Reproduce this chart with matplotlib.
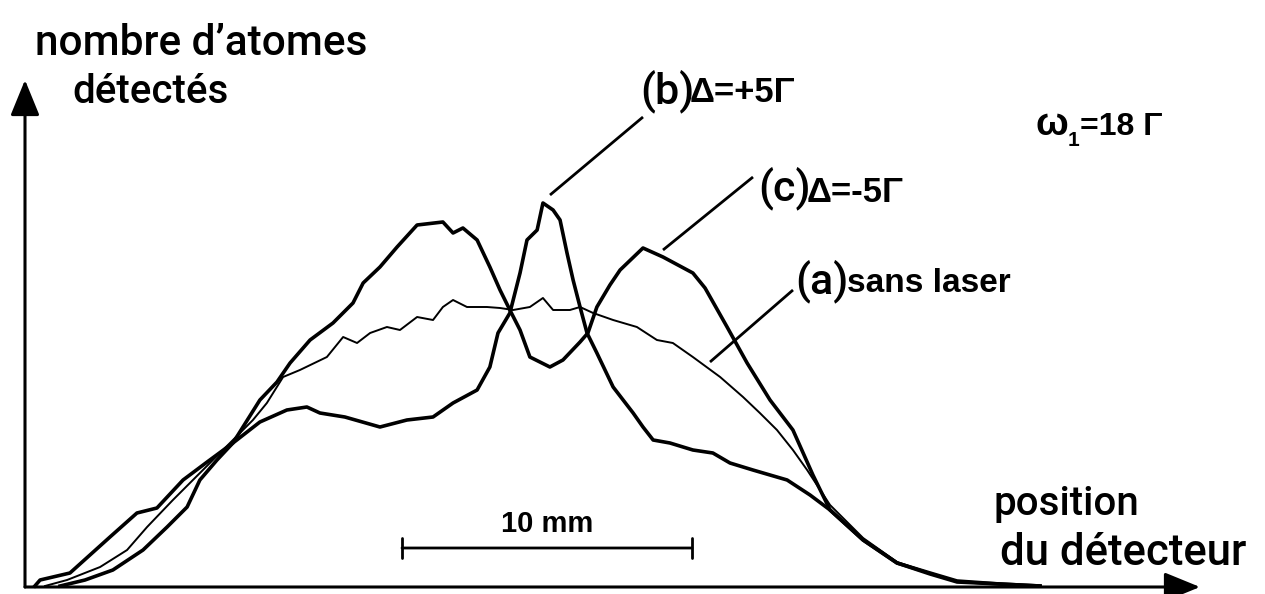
import matplotlib.pyplot as plt

# detector position in mm, atom counts in arbitrary units
pos_a = [0.69, 1.45, 2.59, 3.52, 4.21, 5.10, 5.79, 6.48, 7.17, 7.86, 8.34, 8.90, 9.48,
         10.41, 10.97, 11.45, 11.90, 12.48, 12.93, 13.52, 14.07, 14.41, 14.76, 15.24,
         15.93, 16.38, 16.83, 17.41, 17.86, 18.21, 18.79, 19.14, 19.59, 20.28, 21.10,
         21.79, 22.34, 23.03, 23.97, 24.76, 25.34, 25.93, 26.48, 26.97, 27.76, 28.90,
         30.07, 31.21, 32.14, 33.62, 35.00]
cnt_a = [1, 7, 20, 37, 60, 87, 107, 127, 147, 167, 184, 210, 217, 230, 250, 244, 254,
         260, 257, 270, 267, 280, 287, 280, 280, 279, 277, 280, 289, 277, 277, 280, 274,
         267, 260, 247, 244, 230, 210, 190, 174, 157, 137, 117, 82, 49, 25, 14, 5, 3, 1]

pos_b = [1.21, 2.07, 3.03, 4.07, 4.90, 5.59, 6.03, 6.62, 7.17, 8.10, 9.03, 9.72, 10.17,
         11.03, 12.24, 13.17, 14.07, 14.76, 15.59, 16.03, 16.31, 16.72, 17.07, 17.31,
         17.66, 17.86, 18.21, 18.45, 18.69, 18.90, 19.14, 19.38, 19.72, 20.28, 20.97,
         21.31, 21.66, 22.24, 23.03, 23.72, 24.31, 25.10, 26.28, 27.07, 27.76, 28.90,
         30.07, 31.21, 32.14, 33.62, 35.00]
cnt_b = [1, 7, 17, 37, 60, 80, 107, 127, 144, 165, 177, 180, 174, 170, 160, 167, 170,
         184, 197, 220, 254, 274, 314, 347, 357, 384, 377, 367, 334, 307, 280, 254, 234,
         200, 174, 160, 147, 144, 137, 134, 124, 117, 107, 92, 77, 47, 24, 13, 5, 3, 1]

pos_c = [0.34, 0.52, 1.55, 2.93, 3.86, 4.55, 5.45, 6.28, 7.17, 8.10, 8.69, 9.14, 9.83,
         10.62, 11.31, 11.66, 12.24, 12.83, 13.52, 14.41, 14.76, 15.10, 15.59, 16.03,
         16.38, 16.72, 17.07, 17.41, 18.10, 18.55, 19.14, 19.41, 19.72, 20.17, 20.52,
         21.31, 22.00, 23.03, 23.45, 24.21, 24.90, 25.69, 26.48, 27.17, 27.76, 28.90,
         30.07, 31.21, 32.14, 33.62, 35.00]
cnt_c = [1, 7, 14, 50, 74, 79, 107, 125, 144, 187, 205, 224, 247, 264, 284, 304, 320,
         340, 362, 365, 354, 359, 347, 320, 297, 277, 257, 230, 220, 227, 245, 254, 280,
         302, 317, 339, 330, 314, 299, 260, 224, 187, 157, 112, 77, 47, 24, 14, 6, 3, 1]

scale_start = 13.0   # mm
scale_len = 10.0     # mm

W, H = 1265, 594
X0, Y0, PX_PER_MM = 25, 587, 29.0


def at(px, py):
    # picture position -> data coordinates, for labels only
    return (px - X0) / PX_PER_MM, Y0 - py


fig = plt.figure(figsize=(W / 100, H / 100), dpi=100)
ax = fig.add_axes([0, 0, 1, 1])
ax.set_xlim(at(0, 0)[0], at(W, 0)[0])
ax.set_ylim(at(0, H)[1], at(0, 0)[1])
ax.axis('off')

ax.plot(pos_c, cnt_c, color='black', lw=2.6, solid_joinstyle='round')
ax.plot(pos_b, cnt_b, color='black', lw=2.6, solid_joinstyle='round')
ax.plot(pos_a, cnt_a, color='black', lw=1.4, solid_joinstyle='round')

arrow = dict(arrowstyle='-|>,head_length=1.1,head_width=0.45', lw=2.2, color='black',
             mutation_scale=20, shrinkA=0, shrinkB=0)
ax.annotate('', xy=at(1200, Y0), xytext=at(X0, Y0), arrowprops=arrow)
ax.annotate('', xy=at(X0, 80), xytext=at(X0, Y0), arrowprops=arrow)

# scale bar
bar_y = at(0, 548)[1]
ax.annotate('', xy=(scale_start + scale_len, bar_y), xytext=(scale_start, bar_y),
            arrowprops=dict(arrowstyle='|-|,widthA=0.35,widthB=0.35', lw=2.0, color='black',
                            mutation_scale=20, shrinkA=0, shrinkB=0))
ax.text(scale_start + scale_len / 2, at(0, 532)[1], '10 mm', ha='center', va='baseline',
        fontsize=21, family=['Liberation Sans', 'DejaVu Sans'], weight='bold')

# leader lines
for p0, p1 in [((550, 195), (643, 117)), ((663, 250), (753, 177)), ((710, 362), (793, 290))]:
    (x0, y0), (x1, y1) = at(*p0), at(*p1)
    ax.plot([x0, x1], [y0, y1], color='black', lw=2.0, solid_capstyle='butt')

stencil = dict(family=['Roboto', 'DejaVu Sans'], weight='medium')
bold = dict(family=['Liberation Sans', 'DejaVu Sans'], weight='bold')


def put(px, py, s, size, **kw):
    x, y = at(px, py)
    ax.text(x, y, s, fontsize=size, va='baseline', **kw)


put(35, 55, 'nombre d\u2019atomes', 30.5, **stencil)
put(72, 103, 'détectés', 29, **stencil)
put(993, 515, 'position', 29, **stencil)
put(1000, 565, 'du détecteur', 31.5, **stencil)

put(640, 103, '(b)', 31, **stencil)
put(690, 102, 'Δ=+5Γ', 25, **bold)
put(758, 200, '(c)', 31, **stencil)
put(807, 202, 'Δ=-5Γ', 25, **bold)
put(795, 293, '(a)', 31, **stencil)
put(847, 292, 'sans laser', 24, **bold)

put(1036, 135, 'ω', 28, **bold)
put(1068, 146, '1', 15, **bold)
put(1080, 135, '=18 Γ', 23, **bold)

fig.savefig('out.png', dpi=100)
